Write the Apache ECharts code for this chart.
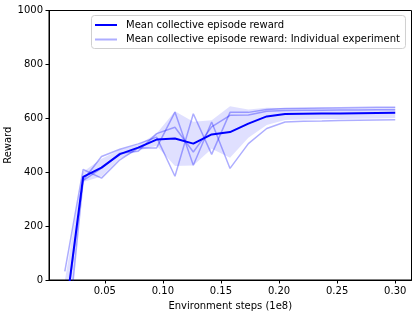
<!DOCTYPE html>
<html>
<head>
<meta charset="utf-8">
<script src="https://cdn.jsdelivr.net/npm/echarts@6/dist/echarts.min.js"></script>
<style>html,body{margin:0;padding:0;background:#fff}#c{width:416px;height:313px}</style>
</head>
<body>
<div id="c"></div>
<script>
const steps = [0.0156, 0.0314, 0.0472, 0.0630, 0.0788, 0.0946, 0.1104, 0.1262, 0.1420, 0.1578, 0.1736, 0.1894, 0.2052, 0.2210, 0.2368, 0.2526, 0.2684, 0.2842, 0.3000];
const meanReward = [-143, 383, 417, 467, 491, 521, 525, 506, 540, 549, 580, 607, 616, 617, 618, 618, 619, 620, 621];
const expA = [-150, 370, 458, 485, 505, 530, 385, 617, 466, 622, 622, 633, 636, 637, 638, 639, 640, 641, 641];
const expB = [-310, 369, 415, 470, 478, 543, 567, 475, 568, 611, 612, 626, 629, 630, 630, 631, 631, 632, 632];
const expC = [32, 410, 378, 446, 490, 490, 623, 426, 586, 414, 506, 562, 586, 589, 590, 592, 593, 594, 595];
const xTicks = [0.05, 0.10, 0.15, 0.20, 0.25, 0.30];
const yTicks = [0, 200, 400, 600, 800, 1000];

const NAME_MEAN = 'Mean collective episode reward';
const NAME_EXP = 'Mean collective episode reward: Individual experiment';
const FONT = 'DejaVu Sans';
const FS = 10;

const exps = [expA, expB, expC];
const bandLow = [], bandHigh = [];
steps.forEach((x, i) => {
  const vals = exps.map(e => e[i]);
  const m = vals.reduce((a, b) => a + b, 0) / vals.length;
  const sd = Math.sqrt(vals.reduce((a, b) => a + (b - m) * (b - m), 0) / vals.length);
  bandLow.push(meanReward[i] - sd);
  bandHigh.push(meanReward[i] + sd);
});
const pairs = arr => steps.map((x, i) => [x, arr[i]]);

const lightColor = 'rgba(0,0,255,0.32)';
const series = [{
  type: 'custom', name: 'band', silent: true, z: 1,
  data: pairs(bandHigh),
  encode: {x: 0, y: 1},
  renderItem: function (params, api) {
    if (params.dataIndex !== 0) return;
    const pts = [];
    steps.forEach((x, i) => pts.push(api.coord([x, bandHigh[i]])));
    for (let i = steps.length - 1; i >= 0; i--) pts.push(api.coord([steps[i], bandLow[i]]));
    const cs = params.coordSys;
    return {
      type: 'polygon', shape: {points: pts},
      style: {fill: 'rgba(0,0,255,0.12)', stroke: null},
      clipPath: {type: 'rect', shape: {x: cs.x, y: cs.y, width: cs.width, height: cs.height}}
    };
  }
}];
exps.forEach(e => series.push({
  type: 'line', name: NAME_EXP, data: pairs(e), symbol: 'none',
  lineStyle: {color: lightColor, width: 1.5}, itemStyle: {color: lightColor}, z: 2
}));
series.push({
  type: 'line', name: NAME_MEAN, data: pairs(meanReward), symbol: 'none',
  lineStyle: {color: '#0000ff', width: 2}, itemStyle: {color: '#0000ff'}, z: 3
});

const chart = echarts.init(document.getElementById('c'), null, {renderer: 'canvas'});
chart.setOption({
  animation: false,
  backgroundColor: '#fff',
  grid: {left: 49, right: 4.5, top: 10.5, bottom: 33, containLabel: false, outerBoundsMode: 'none',
    show: true, borderColor: '#000', borderWidth: 1, backgroundColor: 'transparent'},
  xAxis: {
    type: 'value', min: 0.002, max: 0.314,
    name: 'Environment steps (1e8)', nameLocation: 'middle', nameGap: 21.5, nameMoveOverlap: false,
    nameTextStyle: {fontFamily: FONT, fontSize: FS, color: '#000'},
    axisLine: {show: true, onZero: false, lineStyle: {color: '#000', width: 1}},
    axisTick: {show: true, length: 3.5, lineStyle: {color: '#000'}, customValues: xTicks},
    axisLabel: {fontFamily: FONT, fontSize: FS, color: '#000', margin: 6, customValues: xTicks, formatter: v => v.toFixed(2)},
    splitLine: {show: false}
  },
  yAxis: {
    type: 'value', min: 0, max: 1000, interval: 200,
    name: 'Reward', nameLocation: 'middle', nameGap: 36, nameMoveOverlap: false,
    nameTextStyle: {fontFamily: FONT, fontSize: FS, color: '#000'},
    axisLine: {show: true, lineStyle: {color: '#000', width: 1}},
    axisTick: {show: true, length: 3.5, lineStyle: {color: '#000'}, customValues: yTicks},
    axisLabel: {fontFamily: FONT, fontSize: FS, color: '#000', margin: 6, customValues: yTicks, formatter: v => String(v)},
    splitLine: {show: false}
  },
  legend: {
    orient: 'vertical', left: 91.5, top: 15.5,
    data: [{name: NAME_MEAN}, {name: NAME_EXP}],
    icon: 'rect', itemWidth: 22, itemHeight: 2, itemGap: 2.5,
    padding: [3.5, 5.5, 3, 3.5],
    borderColor: '#d0d0d0', borderWidth: 1, borderRadius: 3,
    backgroundColor: 'rgba(255,255,255,0.85)',
    selectedMode: false,
    textStyle: {fontFamily: FONT, fontSize: FS, color: '#000', padding: [0, 0, 0, 4], lineHeight: 12}
  },
  series: series
});
</script>
</body>
</html>
